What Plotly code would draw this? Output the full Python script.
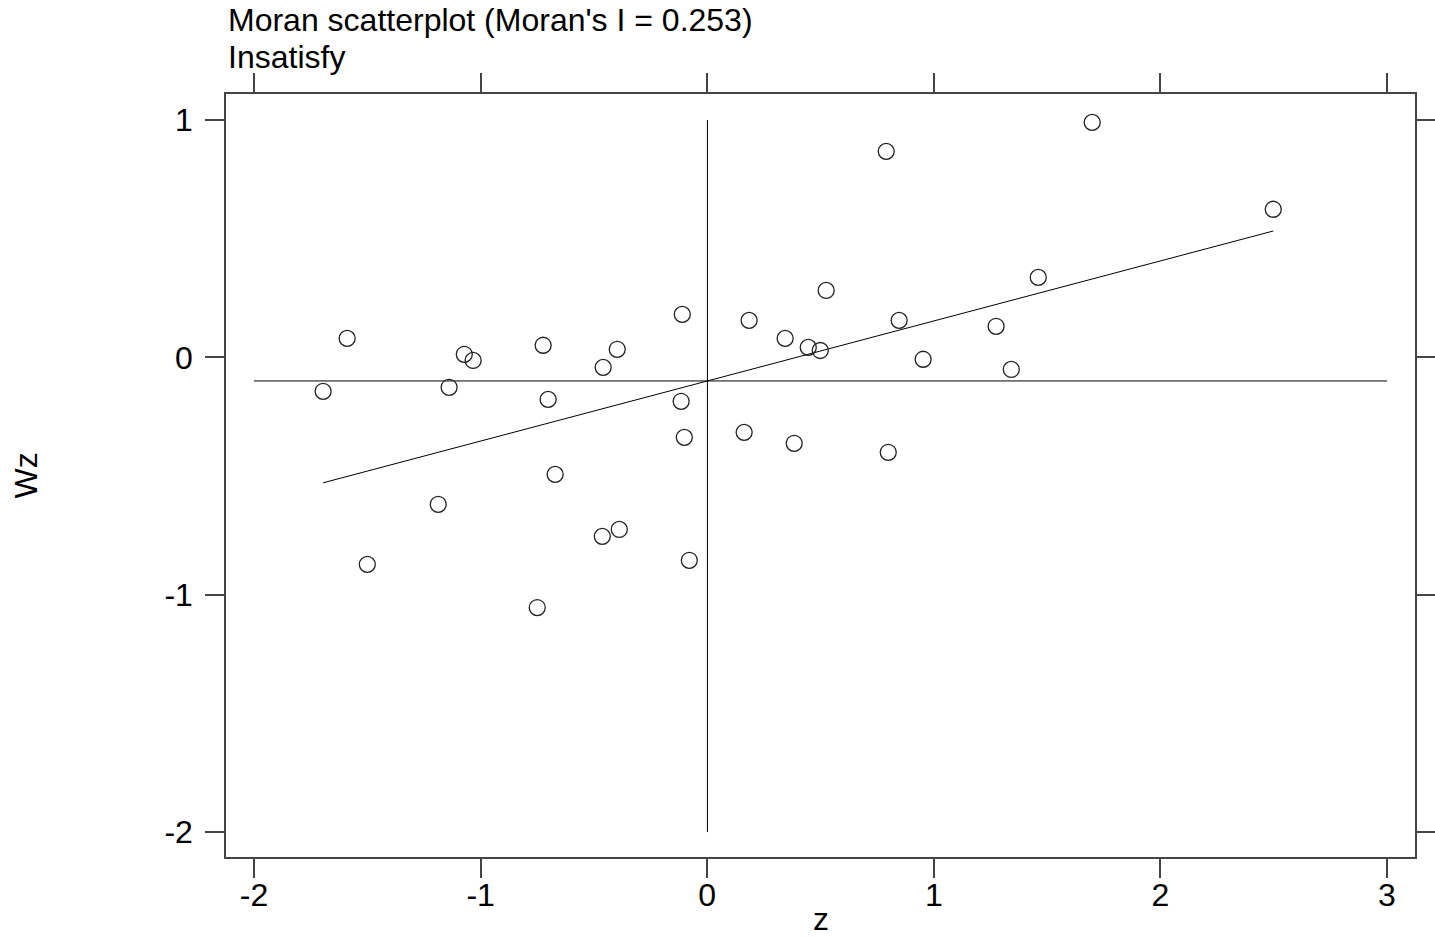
import numpy as np
import plotly.graph_objects as go

# Data
z = [-1.695, -1.589, -1.500, -1.187, -1.139, -1.072, -1.033, -0.750, -0.724, -0.702,
     -0.671, -0.463, -0.459, -0.397, -0.388, -0.110, -0.115, -0.101, -0.079, 0.163,
     0.185, 0.344, 0.384, 0.446, 0.499, 0.525, 0.790, 0.799, 0.847, 0.953,
     1.275, 1.342, 1.461, 1.699, 2.498]
wz = [-0.143, 0.080, -0.872, -0.619, -0.126, 0.013, -0.013, -1.054, 0.051, -0.177,
      -0.493, -0.754, -0.042, 0.034, -0.725, 0.181, -0.185, -0.337, -0.855, -0.316,
      0.156, 0.080, -0.362, 0.042, 0.029, 0.282, 0.868, -0.400, 0.156, -0.008,
      0.131, -0.051, 0.337, 0.990, 0.624]
moran_i = 0.253
x_ticks = [-2, -1, 0, 1, 2, 3]
y_ticks = [-2, -1, 0, 1]
title_line1 = "Moran scatterplot (Moran's I = 0.253)"
title_line2 = "Insatisfy"

z_arr = np.array(z)
wz_arr = np.array(wz)
mz, mwz = z_arr.mean(), wz_arr.mean()
fit_x = np.array([z_arr.min(), z_arr.max()])
fit_y = mwz + moran_i * (fit_x - mz)

FONT = "Liberation Sans, Arial, sans-serif"
fig = go.Figure()
fig.add_trace(go.Scatter(x=[min(x_ticks), max(x_ticks)], y=[mwz, mwz], mode="lines",
                         line=dict(color="black", width=1), hoverinfo="skip", showlegend=False))
fig.add_trace(go.Scatter(x=[mz, mz], y=[min(y_ticks), max(y_ticks)], mode="lines",
                         line=dict(color="black", width=1), hoverinfo="skip", showlegend=False))
fig.add_trace(go.Scatter(x=fit_x, y=fit_y, mode="lines",
                         line=dict(color="black", width=1), hoverinfo="skip", showlegend=False))
fig.add_trace(go.Scatter(x=z, y=wz, mode="markers",
                         marker=dict(symbol="circle-open", size=16, color="#222",
                                     line=dict(width=1.3, color="#222")),
                         showlegend=False))

axis_common = dict(showgrid=False, zeroline=False, showline=True, linecolor="#444",
                   linewidth=1.5, mirror="ticks", ticks="outside", ticklen=19,
                   tickcolor="#444", tickwidth=1.5, automargin=False,
                   tickfont=dict(family=FONT, size=32, color="black"))
fig.update_xaxes(range=[-2.1236, 3.1236], tickvals=x_ticks,
                 ticktext=[str(v) for v in x_ticks], ticklabelstandoff=-10, **axis_common)
fig.update_yaxes(range=[-2.105, 1.1096], tickvals=y_ticks,
                 ticktext=[str(v) for v in y_ticks], ticklabelstandoff=6, **axis_common)

annos = [
    dict(text=title_line1, x=0, y=(857 - 20) / 763, xanchor="left", yanchor="middle"),
    dict(text=title_line2, x=0, y=(857 - 57) / 763, xanchor="left", yanchor="middle"),
    dict(text="z", x=0.5, y=(857 - 919) / 763, xanchor="center", yanchor="middle"),
    dict(text="Wz", x=(25 - 226) / 1189, y=0.5, xanchor="center", yanchor="middle", textangle=-90),
]
for a in annos:
    fig.add_annotation(xref="paper", yref="paper", showarrow=False,
                       font=dict(family=FONT, size=32, color="black"), **a)

fig.update_layout(width=1435, height=938, plot_bgcolor="white", paper_bgcolor="white",
                  margin=dict(l=226, r=20, t=94, b=81), autosize=False)
fig.write_html("out.html")
